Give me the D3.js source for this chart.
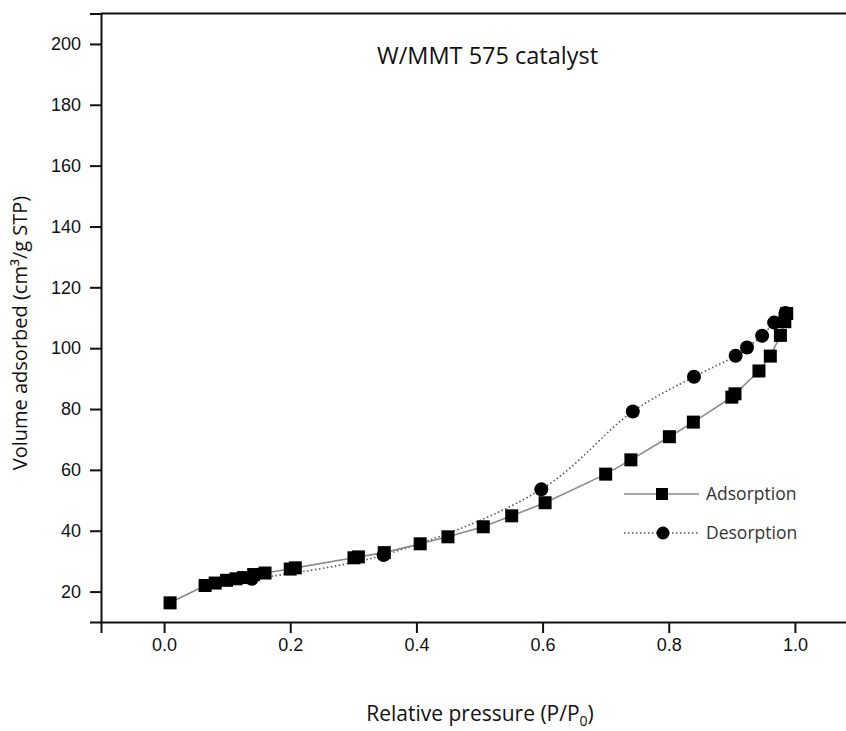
<!DOCTYPE html>
<html>
<head>
  <meta charset="utf-8">
  <title>W/MMT 575 isotherm</title>
  <script src="https://cdn.jsdelivr.net/npm/d3@7"></script>
  <style>
    body { margin: 0; background: #fff; }
  </style>
</head>
<body>
  <svg width="846" height="731" id="mainsvg"></svg>
  <script>
    // relative pressure / volume adsorbed
    const adsP = [0.0095, 0.065, 0.081, 0.099, 0.114, 0.126, 0.142, 0.160, 0.200, 0.208,
      0.301, 0.308, 0.349, 0.406, 0.450, 0.506, 0.551, 0.604, 0.700, 0.740,
      0.801, 0.839, 0.900, 0.905, 0.943, 0.961, 0.977, 0.984, 0.987];
    const adsV = [16.3, 22.0, 22.8, 23.7, 24.2, 24.6, 25.6, 26.1, 27.4, 27.8,
      31.1, 31.4, 32.8, 35.7, 38.0, 41.3, 44.9, 49.2, 58.6, 63.3,
      70.9, 75.7, 83.9, 85.0, 92.5, 97.4, 104.2, 108.7, 111.4];
    const desP = [0.139, 0.348, 0.598, 0.743, 0.840, 0.906, 0.924, 0.948, 0.967, 0.985];
    const desV = [24.2, 32.0, 53.6, 79.2, 90.6, 97.5, 100.2, 104.1, 108.4, 111.6];

    const xTicks = [0, 0.2, 0.4, 0.6, 0.8, 1.0];
    const yTicks = [20, 40, 60, 80, 100, 120, 140, 160, 180, 200];
    const xMinor = [-0.1, 0.1, 0.3, 0.5, 0.7, 0.9, 1.1];
    const yMinor = [10, 30, 50, 70, 90, 110, 130, 150, 170, 190, 210];

    const titleText = 'W/MMT 575 catalyst';
    const seriesNames = ['Adsorption', 'Desorption'];

    const svg = d3.select('#mainsvg');
    const tickFont = '"Liberation Sans", Arial, sans-serif';
    const textFont = '"Open Sans", "Noto Sans", sans-serif';

    const xScale = d3.scaleLinear().domain([-0.1, 1.1]).range([101, 858]);
    const yScale = d3.scaleLinear().domain([10, 210]).range([622, 13.5]);

    const ads = adsP.map((p, i) => ({ p, v: adsV[i] }));
    const des = desP.map((p, i) => ({ p, v: desV[i] }));

    // axes: minor ticks first, then major ticks with labels
    const xAxisG = svg.append('g').attr('transform', `translate(0, ${yScale(10)})`);
    xAxisG.call(d3.axisBottom(xScale).tickValues(xMinor).tickSize(5).tickFormat(''));
    xAxisG.call(d3.axisBottom(xScale).tickValues(xTicks).tickSize(11).tickPadding(5)
      .tickFormat(d3.format('.1f')));

    const yAxisG = svg.append('g').attr('transform', `translate(${xScale(-0.1)}, 0)`);
    yAxisG.call(d3.axisLeft(yScale).tickValues(yMinor).tickSize(5).tickFormat(''));
    yAxisG.call(d3.axisLeft(yScale).tickValues(yTicks).tickSize(11).tickPadding(9));

    svg.selectAll('.domain').attr('stroke', '#111').attr('stroke-width', 2);
    svg.selectAll('.tick line').attr('stroke', '#111').attr('stroke-width', 2);
    svg.selectAll('.tick text').attr('font-family', tickFont).attr('font-size', 18)
      .attr('fill', '#111');

    // top frame line
    svg.append('line')
      .attr('x1', xScale(-0.1)).attr('x2', xScale(1.1))
      .attr('y1', yScale(210)).attr('y2', yScale(210))
      .attr('stroke', '#111').attr('stroke-width', 2);

    // lines
    const adsLine = d3.line().x(d => xScale(d.p)).y(d => yScale(d.v));
    const desLine = d3.line().x(d => xScale(d.p)).y(d => yScale(d.v))
      .curve(d3.curveCatmullRom.alpha(0.5));

    svg.append('path').datum(des).attr('d', desLine)
      .attr('fill', 'none').attr('stroke', '#555').attr('stroke-width', 1.6)
      .attr('stroke-dasharray', '1.5 2.5');
    svg.append('path').datum(ads).attr('d', adsLine)
      .attr('fill', 'none').attr('stroke', '#8a8a8a').attr('stroke-width', 1.6);

    // markers
    svg.selectAll('.desdot').data(des).join('circle').attr('class', 'desdot')
      .attr('cx', d => xScale(d.p)).attr('cy', d => yScale(d.v)).attr('r', 7).attr('fill', '#000');
    const sq = 13;
    svg.selectAll('.adssq').data(ads).join('rect').attr('class', 'adssq')
      .attr('x', d => xScale(d.p) - sq / 2).attr('y', d => yScale(d.v) - sq / 2)
      .attr('width', sq).attr('height', sq).attr('fill', '#000');

    // title
    svg.append('text').attr('x', 377).attr('y', 64).text(titleText)
      .attr('font-family', textFont).attr('font-size', 23.5).attr('fill', '#111');

    // axis titles
    const xt = svg.append('text').attr('x', 480).attr('y', 721).attr('text-anchor', 'middle')
      .attr('font-family', textFont).attr('font-size', 21).attr('fill', '#111');
    xt.append('tspan').text('Relative pressure (P/P');
    xt.append('tspan').text('0').attr('font-size', 14).attr('dy', 5);
    xt.append('tspan').text(')').attr('dy', -5);

    svg.append('text').attr('transform', 'translate(27, 333) rotate(-90)')
      .attr('text-anchor', 'middle').text('Volume adsorbed (cm³/g STP)')
      .attr('font-family', textFont).attr('font-size', 20).attr('fill', '#111');

    // legend
    const lg = svg.append('g').attr('font-family', textFont).attr('font-size', 17.5).attr('fill', '#333');
    const rows = [{ y: 494 }, { y: 533 }];
    lg.append('line').attr('x1', 624).attr('x2', 699).attr('y1', rows[0].y).attr('y2', rows[0].y)
      .attr('stroke', '#8a8a8a').attr('stroke-width', 1.6);
    lg.append('rect').attr('x', 662 - 6).attr('y', rows[0].y - 6).attr('width', 12).attr('height', 12)
      .attr('fill', '#000');
    lg.append('text').attr('x', 706).attr('y', rows[0].y + 6).text(seriesNames[0]);
    lg.append('line').attr('x1', 624).attr('x2', 699).attr('y1', rows[1].y).attr('y2', rows[1].y)
      .attr('stroke', '#555').attr('stroke-width', 1.6).attr('stroke-dasharray', '1.5 2.5');
    lg.append('circle').attr('cx', 663).attr('cy', rows[1].y).attr('r', 6.5).attr('fill', '#000');
    lg.append('text').attr('x', 706).attr('y', rows[1].y + 6).text(seriesNames[1]);
  </script>
</body>
</html>
